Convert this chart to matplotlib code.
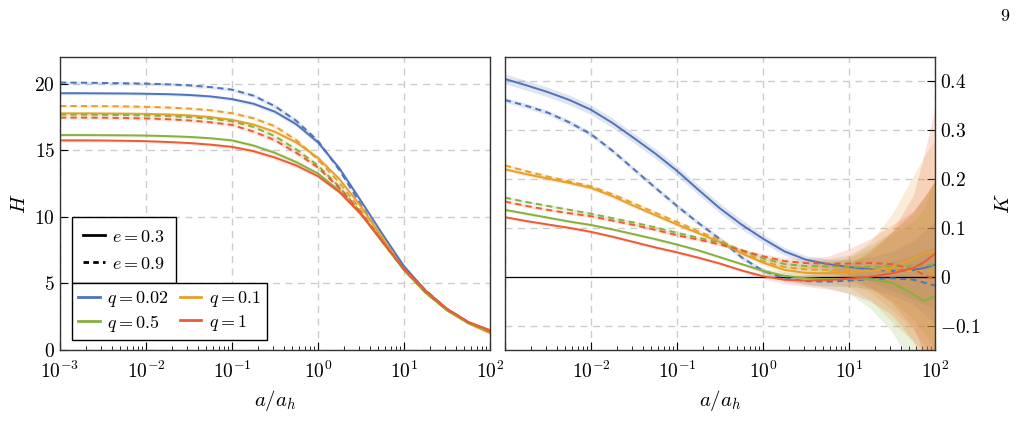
import matplotlib
matplotlib.use('Agg')
import matplotlib.pyplot as plt
from matplotlib.ticker import FuncFormatter, LogLocator, NullFormatter
from matplotlib.lines import Line2D
import numpy as np

plt.rcParams['mathtext.fontset'] = 'cm'
plt.rcParams['font.family'] = 'serif'
plt.rcParams['font.serif'] = ['DejaVu Serif']

log_a_H = [-3, -2.75, -2.5, -2.25, -2, -1.75, -1.5, -1.25, -1, -0.75, -0.5, -0.25,
           0, 0.25, 0.5, 0.75, 1, 1.25, 1.5, 1.75, 2]
log_a_K = [-3, -2.75, -2.5, -2.25, -2, -1.75, -1.5, -1.25, -1, -0.75, -0.5, -0.25,
           0, 0.25, 0.5, 0.75, 1, 1.25, 1.5, 1.75, 1.875, 2]

q_labels = ['0.02', '0.1', '0.5', '1']
e_labels = ['0.3', '0.9']

# H, e = 0.3 (solid)
H_e03_q002 = [19.28, 19.28, 19.27, 19.26, 19.24, 19.21, 19.15, 19.04, 18.84, 18.49, 17.89, 16.94,
              15.59, 13.64, 11.2, 8.7, 6.3, 4.47, 3.07, 2.07, 1.37]
H_e03_q01 = [17.77, 17.77, 17.76, 17.75, 17.73, 17.69, 17.62, 17.49, 17.28, 16.93, 16.38, 15.58,
             14.43, 12.83, 10.78, 8.43, 6.03, 4.3, 2.97, 1.99, 1.27]
H_e03_q05 = [16.14, 16.14, 16.13, 16.12, 16.1, 16.06, 16.0, 15.9, 15.74, 15.35, 14.8, 14.1,
             13.25, 11.95, 10.2, 8.1, 6.0, 4.33, 3.0, 2.03, 1.4]
H_e03_q1 = [15.74, 15.74, 15.73, 15.71, 15.68, 15.62, 15.54, 15.42, 15.25, 14.93, 14.45, 13.85,
            13.05, 11.85, 10.2, 8.15, 6.1, 4.45, 3.1, 2.1, 1.5]
# H, e = 0.9 (dashed)
H_e09_q002 = [20.08, 20.07, 20.05, 20.03, 20.0, 19.95, 19.87, 19.74, 19.55, 19.1, 18.3, 17.2,
              15.7, 13.5, 10.9, 8.35, 6.15, 4.5, 3.1, 2.1, 1.4]
H_e09_q01 = [18.32, 18.32, 18.31, 18.29, 18.26, 18.21, 18.13, 18.0, 17.78, 17.4, 16.8, 15.75,
             14.3, 12.55, 10.5, 8.2, 6.05, 4.35, 3.0, 2.02, 1.3]
H_e09_q05 = [17.67, 17.67, 17.66, 17.64, 17.61, 17.56, 17.49, 17.37, 17.17, 16.75, 16.05, 15.05,
             13.85, 12.25, 10.3, 8.1, 6.0, 4.3, 3.0, 2.05, 1.35]
H_e09_q1 = [17.45, 17.45, 17.44, 17.42, 17.39, 17.33, 17.24, 17.1, 16.9, 16.4, 15.75, 14.8,
            13.7, 12.15, 10.3, 8.15, 6.05, 4.38, 3.05, 2.08, 1.4]
H_band = [0.12, 0.12, 0.12, 0.12, 0.12, 0.12, 0.12, 0.12, 0.14, 0.16, 0.18, 0.18,
          0.17, 0.15, 0.13, 0.12, 0.1, 0.09, 0.08, 0.08, 0.08]

# K, e = 0.3 (solid)
K_e03_q002 = [0.405, 0.392, 0.378, 0.362, 0.342, 0.315, 0.284, 0.252, 0.217, 0.178, 0.140, 0.107,
              0.078, 0.052, 0.035, 0.026, 0.020, 0.015, 0.012, 0.014, 0.018, 0.025]
K_e03_q01 = [0.220, 0.210, 0.201, 0.192, 0.182, 0.165, 0.145, 0.126, 0.107, 0.089, 0.071, 0.048,
             0.029, 0.014, 0.008, 0.007, 0.009, 0.012, 0.018, 0.037, 0.047, 0.052]
K_e03_q05 = [0.137, 0.129, 0.121, 0.113, 0.106, 0.097, 0.087, 0.077, 0.066, 0.054, 0.040, 0.026,
             0.012, 0.002, -0.003, -0.005, -0.004, -0.005, -0.012, -0.036, -0.050, -0.040]
K_e03_q1 = [0.122, 0.114, 0.107, 0.100, 0.092, 0.082, 0.071, 0.060, 0.050, 0.039, 0.027, 0.013,
            0.001, -0.006, -0.008, -0.007, -0.004, 0.000, 0.007, 0.018, 0.030, 0.047]
# K, e = 0.9 (dashed)
K_e09_q002 = [0.362, 0.350, 0.336, 0.316, 0.292, 0.258, 0.220, 0.182, 0.145, 0.110, 0.077, 0.040,
              0.012, -0.003, -0.009, -0.010, -0.008, -0.005, -0.003, -0.006, -0.012, -0.018]
K_e09_q01 = [0.228, 0.216, 0.205, 0.195, 0.185, 0.169, 0.150, 0.131, 0.112, 0.093, 0.075, 0.052,
             0.032, 0.020, 0.015, 0.014, 0.014, 0.013, 0.012, 0.012, 0.011, 0.010]
K_e09_q05 = [0.162, 0.153, 0.145, 0.137, 0.129, 0.120, 0.111, 0.101, 0.090, 0.080, 0.070, 0.055,
             0.038, 0.026, 0.022, 0.021, 0.020, 0.020, 0.022, 0.023, 0.024, 0.025]
K_e09_q1 = [0.154, 0.145, 0.137, 0.130, 0.124, 0.115, 0.106, 0.096, 0.085, 0.076, 0.066, 0.054,
            0.042, 0.032, 0.028, 0.027, 0.027, 0.028, 0.026, 0.015, 0.004, -0.006]

# K uncertainty half-widths
Kerr_e03_q002 = [0.010] * 12 + [0.009, 0.008, 0.008, 0.010, 0.015, 0.025, 0.040, 0.060, 0.075, 0.090]
Kerr_e03_q01 = [0.004] * 12 + [0.005, 0.008, 0.012, 0.018, 0.030, 0.060, 0.110, 0.170, 0.200, 0.230]
Kerr_e03_q05 = [0.003] * 12 + [0.005, 0.008, 0.012, 0.018, 0.030, 0.060, 0.100, 0.150, 0.190, 0.240]
Kerr_e03_q1 = [0.003] * 12 + [0.005, 0.008, 0.012, 0.018, 0.030, 0.050, 0.085, 0.150, 0.220, 0.300]
Kerr_e09_q002 = [0.005] * 12 + [0.005, 0.006, 0.007, 0.009, 0.012, 0.020, 0.035, 0.050, 0.065, 0.080]
Kerr_e09_q01 = [0.004] * 12 + [0.005, 0.007, 0.010, 0.015, 0.025, 0.045, 0.080, 0.120, 0.150, 0.190]
Kerr_e09_q05 = [0.003] * 12 + [0.005, 0.007, 0.010, 0.015, 0.025, 0.045, 0.070, 0.110, 0.140, 0.170]
Kerr_e09_q1 = [0.003] * 12 + [0.005, 0.007, 0.010, 0.015, 0.030, 0.050, 0.080, 0.120, 0.160, 0.200]

colors = ['#4f74b9', '#e89f2a', '#87b03c', '#ec5b36']

H_solid = [H_e03_q002, H_e03_q01, H_e03_q05, H_e03_q1]
H_dashed = [H_e09_q002, H_e09_q01, H_e09_q05, H_e09_q1]
K_solid = [K_e03_q002, K_e03_q01, K_e03_q05, K_e03_q1]
K_dashed = [K_e09_q002, K_e09_q01, K_e09_q05, K_e09_q1]
Kerr_solid = [Kerr_e03_q002, Kerr_e03_q01, Kerr_e03_q05, Kerr_e03_q1]
Kerr_dashed = [Kerr_e09_q002, Kerr_e09_q01, Kerr_e09_q05, Kerr_e09_q1]

aH = 10 ** np.array(log_a_H)
aK = 10 ** np.array(log_a_K)
hb = np.array(H_band)

fig = plt.figure(figsize=(10.22, 4.44), dpi=100)
ax1 = fig.add_axes([0.0587, 0.2117, 0.4207, 0.6599])
ax2 = fig.add_axes([0.4941, 0.2117, 0.4207, 0.6599])

dash = (3.2, 2.2)
lw = 1.4

# left panel: H
for i in range(4):
    for vals in (H_solid[i], H_dashed[i]):
        v = np.array(vals)
        ax1.fill_between(aH, v - hb, v + hb, color=colors[i], alpha=0.15, lw=0)
for i in range(4):
    ax1.plot(aH, H_solid[i], color=colors[i], lw=lw)
    ax1.plot(aH, H_dashed[i], color=colors[i], lw=lw, dashes=dash)

# right panel: K
for i in range(4):
    for vals, err in ((K_solid[i], Kerr_solid[i]), (K_dashed[i], Kerr_dashed[i])):
        v = np.array(vals)
        e = np.array(err)
        ax2.fill_between(aK, v - e, v + e, color=colors[i], alpha=0.18, lw=0)
ax2.axhline(0, color='black', lw=0.9, zorder=1.5)
for i in range(4):
    ax2.plot(aK, K_solid[i], color=colors[i], lw=lw)
    ax2.plot(aK, K_dashed[i], color=colors[i], lw=lw, dashes=dash)

math_fmt = FuncFormatter(lambda v, p: r'$%g$' % v)
log_fmt = FuncFormatter(lambda v, p: r'$10^{%d}$' % round(np.log10(v)))

for ax in (ax1, ax2):
    ax.set_xscale('log')
    ax.set_xlim(1e-3, 1e2)
    ax.xaxis.set_major_locator(LogLocator(base=10, numticks=10))
    ax.xaxis.set_minor_locator(LogLocator(base=10, subs=np.arange(2, 10), numticks=20))
    ax.xaxis.set_minor_formatter(NullFormatter())
    ax.grid(True, which='major', color='#cccccc', ls=(0, (5, 4)), lw=1)
    ax.tick_params(which='both', direction='in', labelsize=14, top=False)
    ax.tick_params(which='major', length=6)
    ax.tick_params(which='minor', length=3)
    ax.tick_params(axis='x', pad=8)
    ax.set_axisbelow(True)
    for s in ax.spines.values():
        s.set_linewidth(1.0)
        s.set_color('#333333')
    ax.set_xlabel(r'$a/a_h$', fontsize=15, labelpad=4)

ax1.xaxis.set_major_formatter(log_fmt)
ax2.xaxis.set_major_formatter(FuncFormatter(
    lambda v, p: '' if v < 5e-3 else r'$10^{%d}$' % round(np.log10(v))))

ax1.set_ylim(0, 22)
ax1.set_yticks([0, 5, 10, 15, 20])
ax1.yaxis.set_major_formatter(math_fmt)
ax1.set_ylabel(r'$H$', fontsize=15)

ax2.set_ylim(-0.15, 0.45)
ax2.set_yticks([-0.1, 0, 0.1, 0.2, 0.3, 0.4])
ax2.yaxis.set_major_formatter(math_fmt)
ax2.yaxis.tick_right()
ax2.yaxis.set_label_position('right')
ax2.tick_params(axis='y', left=False, right=True)
ax2.set_ylabel(r'$K$', fontsize=15, labelpad=10)
ax2.yaxis.grid(False)
for yv in [-0.1, 0.1, 0.2, 0.3, 0.4]:
    ax2.axhline(yv, color='#cccccc', ls=(0, (5, 4)), lw=1, zorder=0.5)

# legends
e_handles = [Line2D([], [], color='black', lw=2),
             Line2D([], [], color='black', lw=2, dashes=(2, 1.5))]
leg_e = ax1.legend(e_handles, [r'$e=%s$' % s for s in e_labels],
                   loc='upper left', bbox_to_anchor=(0.028, 0.455), borderaxespad=0,
                   fontsize=13, handlelength=1.2, handletextpad=0.4, fancybox=False,
                   edgecolor='black', framealpha=1, labelspacing=0.5, borderpad=0.6)
leg_e.get_frame().set_linewidth(1.0)
ax1.add_artist(leg_e)

# matplotlib fills legend columns first, so reorder to get rows (0.02, 0.1), (0.5, 1)
order = [0, 2, 1, 3]
q_handles = [Line2D([], [], color=colors[i], lw=2) for i in order]
leg_q = ax1.legend(q_handles, [r'$q=%s$' % q_labels[i] for i in order], ncol=2,
                   loc='lower left', bbox_to_anchor=(0.028, 0.034), borderaxespad=0,
                   fontsize=13, handlelength=1.2, handletextpad=0.4, columnspacing=0.6,
                   fancybox=False, edgecolor='black', framealpha=1, labelspacing=0.2,
                   borderpad=0.35)
leg_q.get_frame().set_linewidth(1.0)

fig.text(0.983, 0.965, r'$9$', fontsize=13, ha='center', va='center')

fig.savefig('out.png', dpi=100)
